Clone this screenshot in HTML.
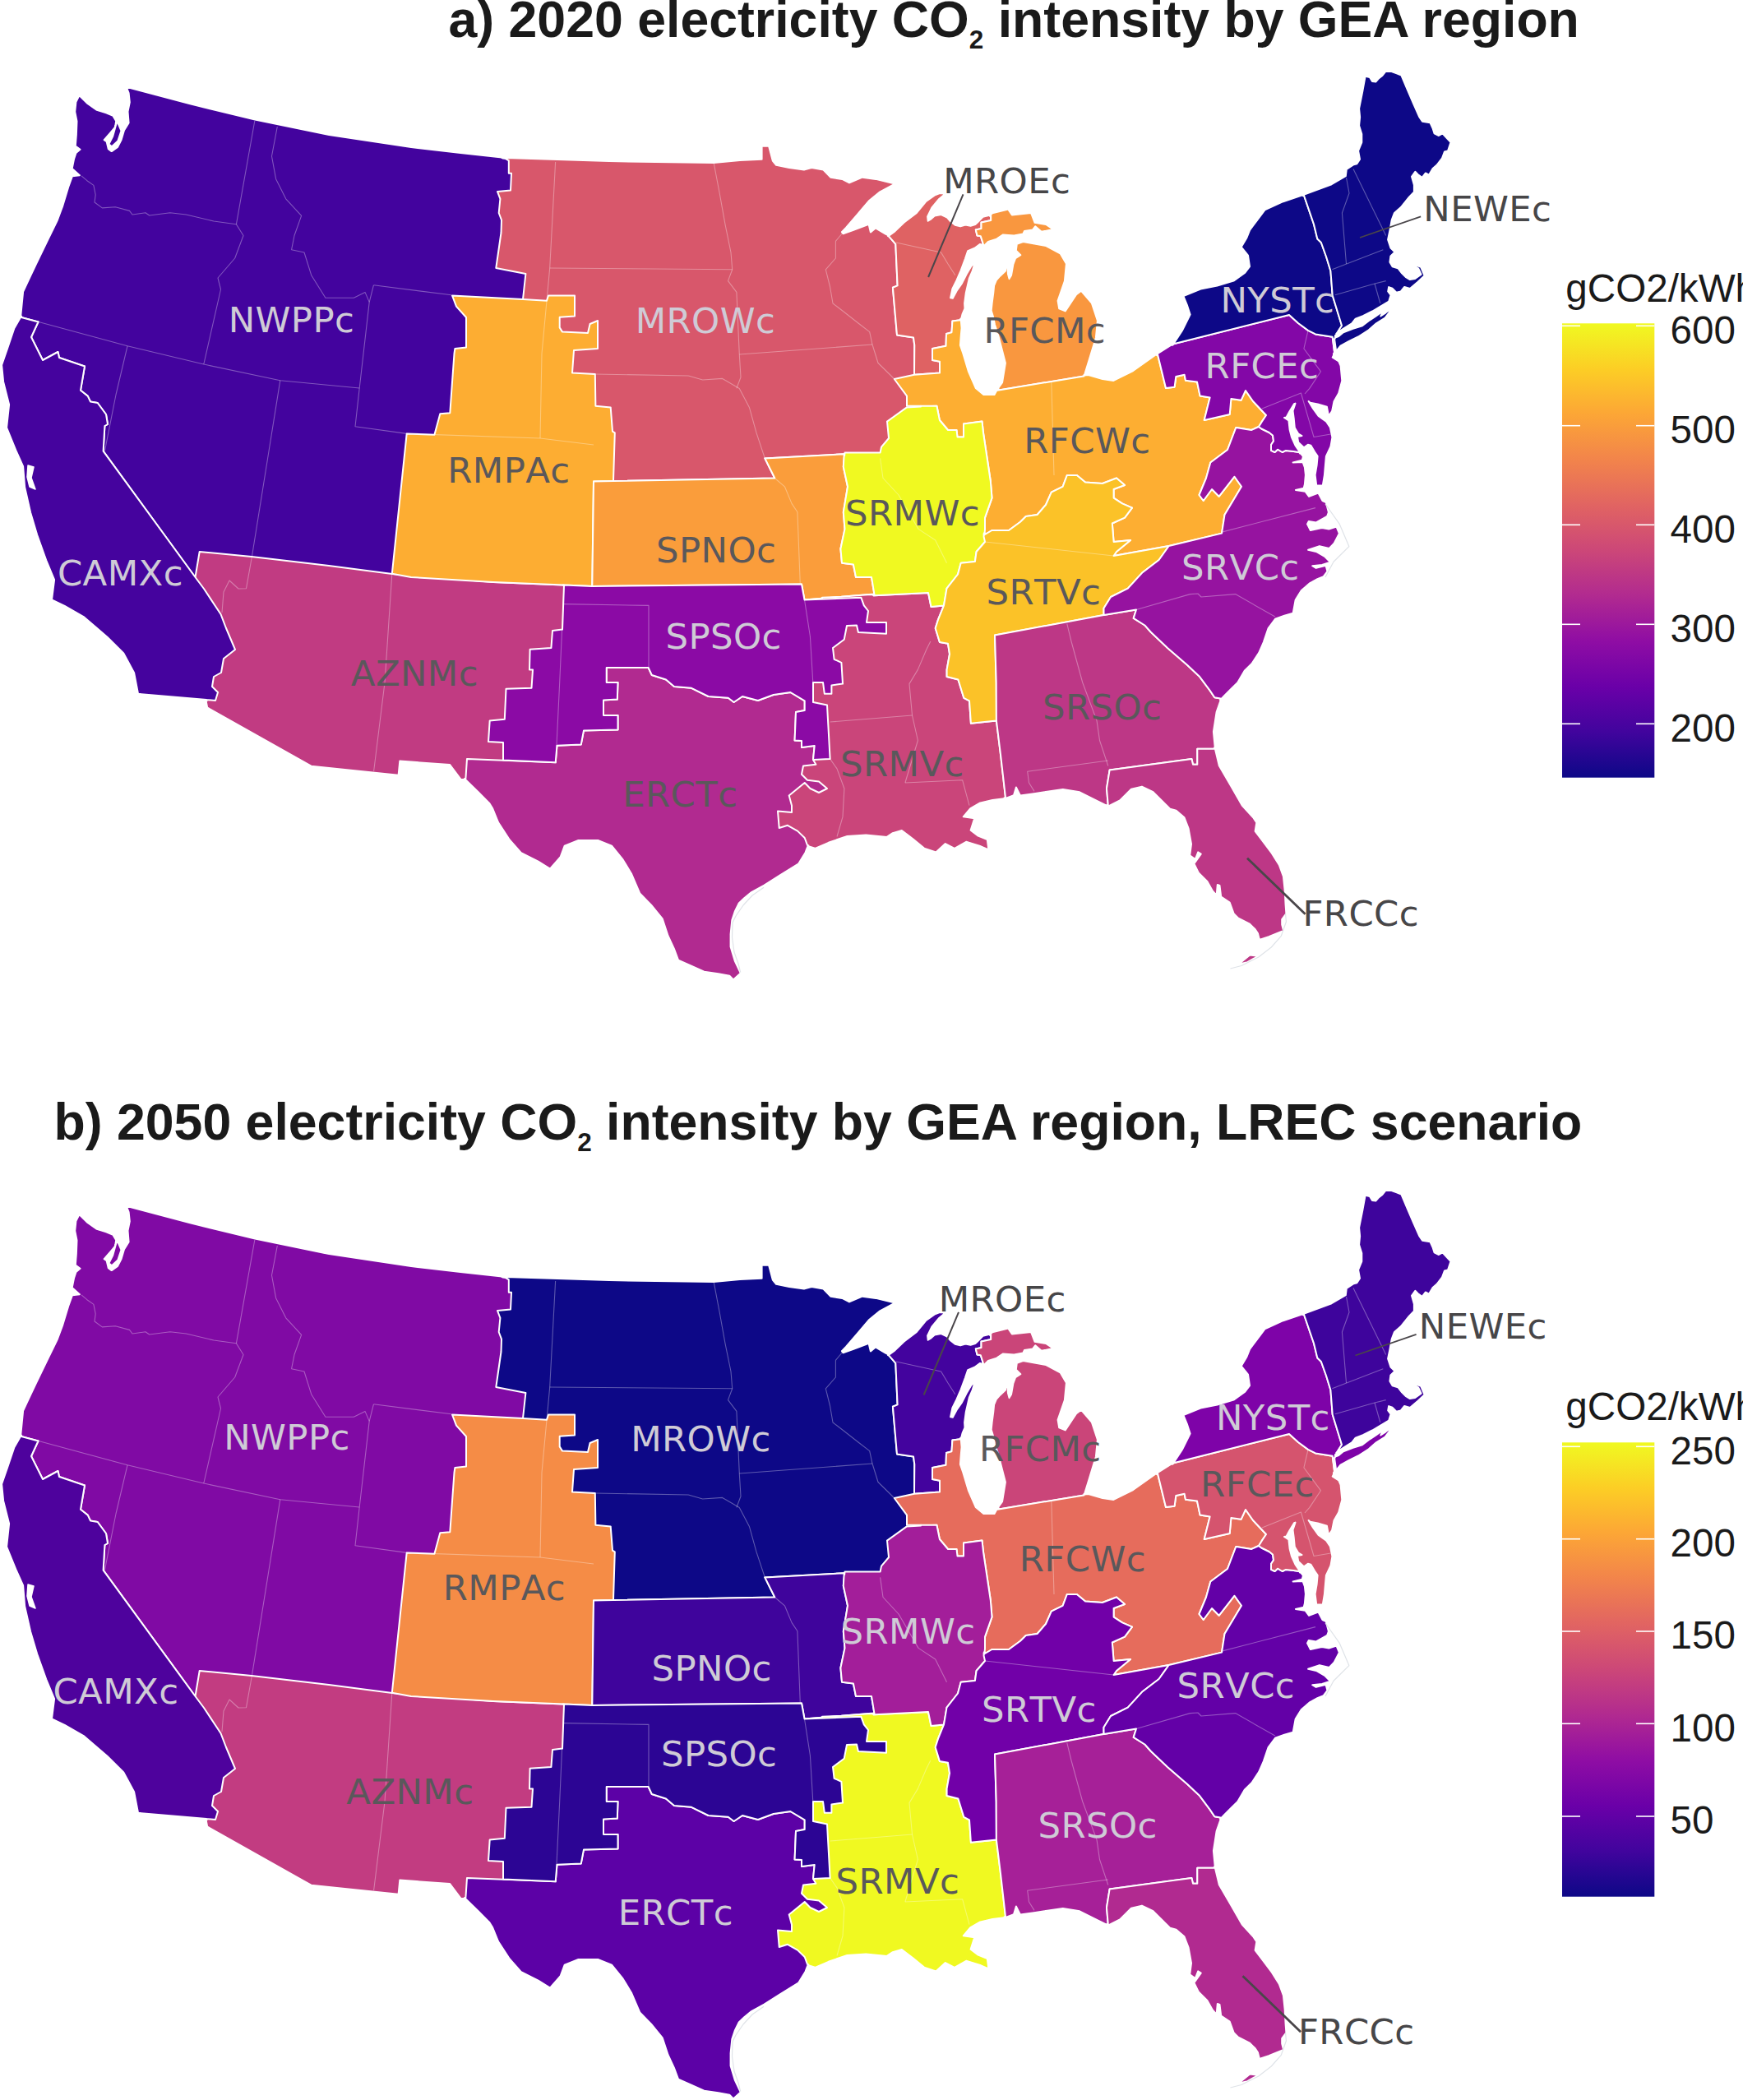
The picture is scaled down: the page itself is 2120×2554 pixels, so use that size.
<!DOCTYPE html>
<html><head><meta charset="utf-8"><title>Electricity CO2 intensity by GEA region</title>
<style>
html,body{margin:0;padding:0;background:#fff;}
body{width:2120px;height:2554px;overflow:hidden;position:relative;}
svg{position:absolute;left:0;top:0;display:block;}
.t{font-family:"Liberation Sans",Arial,sans-serif;font-weight:bold;font-size:62.6px;fill:#1a1a1a;}
.s{font-size:31.5px;}
</style></head><body>
<svg width="2120" height="2554" viewBox="0 0 2120 2554">
<defs><linearGradient id="plasma" x1="0" y1="1" x2="0" y2="0"><stop offset="0.0" stop-color="#0D0887"/><stop offset="0.1" stop-color="#41049D"/><stop offset="0.2" stop-color="#6A00A8"/><stop offset="0.3" stop-color="#8F0DA4"/><stop offset="0.4" stop-color="#B12A90"/><stop offset="0.5" stop-color="#CC4778"/><stop offset="0.6" stop-color="#E16462"/><stop offset="0.7" stop-color="#F2844B"/><stop offset="0.8" stop-color="#FCA636"/><stop offset="0.9" stop-color="#FCCE25"/><stop offset="1.0" stop-color="#F0F921"/></linearGradient></defs>
<rect width="2120" height="2554" fill="#fff"/>
<text class="t" x="545.5" y="45">a) 2020 electricity CO<tspan class="s" dy="14">2</tspan><tspan dy="-14"> intensity by GEA region</tspan></text>
<text class="t" x="65.5" y="1386">b) 2050 electricity CO<tspan class="s" dy="14">2</tspan><tspan dy="-14"> intensity by GEA region, LREC scenario</tspan></text>
<g stroke="#fff" stroke-width="2" stroke-linejoin="round">
<path fill="#43039E" fill-rule="evenodd" d="M600.0,400.0 650.0,400.0 640.0,200.0 615.0,193.0 620.9,193.2 617.2,192.2 615.1,192.1 560.1,186.1 500.1,179.1 400.2,164.1 310.2,145.6 230.2,126.1 153.7,105.9 156.6,113.2 157.8,124.4 155.5,135.8 156.6,149.5 151.0,158.4 147.6,170.0 143.1,178.9 135.7,184.1 131.8,181.3 129.6,172.1 126.7,170.1 134.1,161.6 140.0,154.7 141.2,147.2 137.5,140.9 129.1,137.4 117.8,133.9 106.5,126.0 96.4,116.0 92.4,124.1 91.2,135.9 93.5,147.5 92.9,163.3 91.8,177.6 97.5,181.8 92.5,185.9 90.1,193.1 87.7,205.0 96.9,213.2 88.0,214.2 83.2,227.4 76.3,250.3 69.5,268.6 59.2,289.6 44.2,320.6 35.2,339.6 28.1,354.8 25.1,385.7 24.5,386.8 24.5,387.0 25.3,387.3 26.0,386.0 46.5,391.5 38.0,410.0 52.0,438.0 70.5,428.0 72.0,435.0 103.0,445.5 98.0,474.7 106.7,481.6 110.0,488.5 118.7,490.0 129.0,504.0 131.0,516.0 127.4,518.0 125.6,548.7 237.5,702.0 250.0,720.0 600.0,760.0 600.0,708.0ZM140.5,154.9 140.9,152.8 140.1,155.4ZM601.4,708.1 601.4,708.1 600.0,708.0Z"/>
<path fill="#43039E" fill-rule="evenodd" d="M140.4,152.7 139.7,155.1 140.0,154.7ZM137.2,165.7 132.4,175.2 136.0,178.2 143.3,171.5 147.5,159.0 142.4,147.3Z"/>
<path fill="#C13B82" fill-rule="evenodd" d="M477.0,698.0 400.0,688.0 306.0,677.0 242.7,671.0 237.5,702.0 232.0,720.0 250.0,800.0 250.0,845.0 251.2,851.1 249.8,850.9 249.9,851.9 250.5,851.9 252.2,860.6 378.5,931.7 484.6,942.8 486.3,925.6 547.0,929.9 560.5,947.9 566.0,947.9 566.5,948.4 566.9,948.4 567.4,948.0 566.4,947.0 580.0,935.0 720.0,935.0 720.0,713.0 600.0,708.0ZM686.0,711.6 686.0,711.6 600.0,708.0Z"/>
<path fill="#45039E" fill-rule="evenodd" d="M265.0,842.0 258.0,835.0 260.0,823.0 269.0,818.0 272.0,801.0 286.0,790.0 275.0,764.0 268.5,747.0 248.0,716.0 237.5,702.0 125.6,548.7 127.4,518.0 131.0,516.0 129.0,504.0 118.7,490.0 110.0,488.5 106.7,481.6 98.0,474.7 103.0,445.5 72.0,435.0 70.5,428.0 52.0,438.0 38.0,410.0 46.5,391.5 26.0,386.0 26.1,384.6 25.3,384.4 25.2,384.5 25.1,385.7 17.2,399.6 9.1,423.7 2.1,443.9 4.1,464.2 11.1,492.1 8.1,520.1 19.2,547.4 28.1,567.2 30.1,592.1 37.1,623.2 45.1,650.3 56.2,681.3 66.1,705.1 63.0,729.5 78.6,736.8 102.5,750.7 130.4,774.7 150.3,794.5 163.1,818.3 168.2,844.8 250.5,851.9 250.6,852.4 251.5,852.5 251.2,851.1 169.0,844.0 262.0,852.0Z"/>
<path fill="#D8576B" fill-rule="evenodd" d="M618.8,195.3 618.8,210.8 622.0,210.8 621.0,231.5 605.0,233.0 608.4,241.8 606.7,259.0 610.0,267.6 609.5,283.0 603.3,326.0 639.4,333.0 636.0,364.0 640.0,500.0 700.0,500.0 700.0,580.0 746.0,585.0 735.5,585.3 736.1,585.3 942.3,581.5 930.3,557.4 1026.7,552.2 1026.4,556.5 1026.8,557.7 1027.2,553.9 1040.0,600.0 1120.0,600.0 1120.0,494.6 1121.4,494.5 1121.4,493.7 1120.0,493.7 1120.0,470.0 1112.0,455.8 1112.3,420.0 1111.0,410.5 1091.0,407.5 1085.9,349.7 1091.6,347.4 1089.3,296.9 1081.3,287.7 1082.5,286.9 1082.2,286.6 1081.7,286.3 1081.2,286.7 1077.1,284.6 1064.9,277.4 1058.9,282.4 1056.6,272.8 1037.4,280.0 1025.4,284.3 1023.9,282.1 1029.2,276.6 1043.0,260.6 1056.6,244.6 1070.3,233.3 1088.4,223.6 1065.2,217.9 1048.9,215.7 1033.0,222.4 1024.3,217.9 1010.4,215.8 1001.4,206.6 987.2,204.1 977.9,206.5 959.9,204.1 944.1,200.8 939.8,195.6 935.1,177.8 926.6,177.8 926.6,193.8 899.9,195.1 868.0,198.1 741.0,196.1 615.1,192.1 609.9,191.5 611.7,192.6 615.0,193.0Z"/>
<path fill="#FDAD32" fill-rule="evenodd" d="M747.8,526.4 745.0,524.7 742.7,495.4 724.4,493.7 723.8,455.0 696.0,453.5 698.0,426.0 727.0,424.0 727.0,390.0 717.6,394.0 715.0,405.0 684.0,403.6 680.7,398.4 680.7,385.7 699.0,384.6 699.0,359.5 667.0,359.5 665.0,365.7 636.0,364.0 550.0,359.5 555.0,372.6 567.0,386.0 567.0,422.5 553.4,424.0 552.5,430.0 547.3,502.3 535.3,503.3 528.4,528.8 494.7,527.4 476.8,697.8 500.0,702.0 600.0,708.0 686.0,711.6 686.0,711.6 720.3,713.0 722.0,585.6 747.4,585.1 747.4,585.0 746.0,585.0Z"/>
<path fill="#FA9D3B" fill-rule="evenodd" d="M930.3,557.4 942.3,581.5 746.0,585.0 722.0,585.6 720.3,713.0 975.0,710.5 978.5,729.5 1062.8,722.6 1023.5,725.8 1055.3,724.6 1062.0,724.1 1062.1,724.4 1063.7,724.3 1060.0,702.0 1041.0,702.0 1037.9,686.5 1024.0,684.7 1022.4,667.5 1027.5,643.4 1025.8,622.8 1031.0,591.8 1025.8,567.7 1027.2,553.9 1026.7,552.2ZM978.5,729.5 1000.0,728.6 1000.0,727.7Z"/>
<path fill="#CA457A" fill-rule="evenodd" d="M1000.0,727.7 998.6,727.9 998.6,728.7 1000.0,728.6 1000.0,760.0 960.0,800.0 940.0,960.0 940.0,1020.0 982.0,1027.9 981.5,1029.2 981.7,1029.3 982.4,1029.5 982.5,1029.0 991.3,1031.8 1007.7,1024.8 1030.5,1016.9 1053.3,1015.6 1078.7,1017.9 1085.8,1013.2 1096.8,1010.0 1110.0,1020.0 1124.0,1031.6 1138.4,1036.4 1149.8,1026.1 1161.0,1031.8 1175.1,1023.8 1193.0,1029.3 1202.4,1033.5 1200.8,1021.0 1189.1,1016.2 1180.6,1009.7 1185.2,995.3 1171.7,993.3 1180.1,983.3 1191.3,976.8 1207.2,972.9 1223.2,970.9 1224.5,970.4 1224.4,969.5 1223.0,970.0 1217.0,917.7 1211.9,876.4 1180.9,879.8 1179.0,852.3 1172.3,848.8 1165.4,826.5 1151.6,823.0 1151.6,814.4 1155.0,795.5 1153.0,782.8 1142.9,781.0 1137.7,764.0 1141.0,753.6 1148.0,736.4 1132.5,738.0 1129.0,720.9 1063.7,724.3 1063.0,722.9 1055.3,723.2 1023.5,725.8 1000.0,726.7Z"/>
<path fill="#B12A90" fill-rule="evenodd" d="M978.7,1019.0 970.0,1010.6 958.0,1003.8 947.7,1007.0 946.0,986.5 963.0,988.0 963.0,979.7 959.7,967.6 978.7,952.0 985.5,959.0 996.0,964.0 1006.0,959.0 996.0,950.4 982.0,948.7 975.0,941.8 977.0,931.5 992.4,929.7 989.0,924.0 990.7,907.0 975.0,909.0 975.0,901.0 966.6,900.5 968.0,866.0 978.7,864.0 978.7,852.3 961.4,842.0 940.8,845.0 921.9,852.0 903.0,847.0 892.6,854.0 885.7,848.8 861.6,847.0 841.0,836.8 820.0,835.0 810.0,826.5 792.8,821.0 788.6,812.0 737.7,812.0 737.7,830.0 751.5,830.0 750.8,850.6 734.0,851.6 734.0,870.0 751.5,870.0 751.5,887.4 710.0,888.4 706.7,905.6 677.5,906.7 675.7,927.3 568.0,922.9 566.4,947.0 565.0,947.0 565.0,947.5 565.3,947.9 566.0,947.9 581.4,963.0 595.0,976.6 599.2,983.4 606.1,1000.4 619.9,1021.5 633.8,1037.2 654.6,1047.6 669.0,1056.6 681.7,1042.1 686.7,1028.6 703.5,1021.9 727.2,1021.9 744.0,1028.6 757.6,1045.5 767.9,1062.4 778.2,1086.5 792.1,1100.6 805.7,1117.4 812.6,1138.3 819.8,1153.6 825.0,1167.7 839.1,1173.8 856.4,1181.7 873.7,1184.3 887.3,1186.8 892.0,1191.5 900.8,1183.6 893.7,1168.5 888.6,1151.4 888.6,1136.0 890.3,1119.0 893.7,1108.8 898.7,1098.5 905.5,1092.0 914.0,1085.1 929.5,1076.6 948.4,1064.6 971.0,1050.7 979.5,1036.9 982.5,1029.0 983.0,1029.2 983.3,1028.3 982.0,1027.9Z"/>
<path fill="#8B0AA5" fill-rule="evenodd" d="M686.0,711.6 684.6,711.5 684.6,711.5 686.0,711.6 684.0,765.6 672.0,767.0 670.4,788.0 644.6,789.7 644.0,814.4 648.0,814.4 646.5,836.8 615.5,837.8 613.8,874.7 595.7,876.4 594.0,902.0 612.0,903.0 612.0,924.6 675.7,927.3 677.5,906.7 706.7,905.6 710.0,888.4 751.5,887.4 751.5,870.0 734.0,870.0 734.0,851.6 750.8,850.6 751.5,830.0 737.7,830.0 737.7,812.0 788.6,812.0 792.8,821.0 810.0,826.5 820.0,835.0 841.0,836.8 861.6,847.0 885.7,848.8 892.6,854.0 903.0,847.0 921.9,852.0 940.8,845.0 961.4,842.0 978.7,852.3 978.7,864.0 968.0,866.0 966.6,900.5 975.0,901.0 975.0,909.0 990.7,907.0 989.0,924.0 1009.6,922.9 1006.0,857.5 989.0,854.0 989.0,830.0 1001.0,830.0 1002.8,843.7 1011.4,843.7 1011.4,833.4 1025.0,831.6 1023.4,805.8 1014.6,801.8 1013.0,788.0 1026.7,777.7 1030.0,761.0 1042.0,760.5 1043.9,769.0 1078.0,770.8 1078.0,757.0 1054.0,757.0 1056.0,743.0 1050.8,736.4 1047.3,726.7 978.5,729.5 975.0,710.5 720.3,713.0 686.0,711.5ZM978.5,729.5 1000.0,728.6 1000.0,727.7Z"/>
<path fill="#DF6263" fill-rule="evenodd" d="M1089.3,296.9 1091.6,347.4 1085.9,349.7 1091.0,407.5 1111.0,410.5 1112.3,420.0 1112.0,455.8 1143.0,453.4 1143.0,439.7 1134.0,438.0 1134.0,424.0 1150.5,420.8 1151.0,406.0 1157.5,404.3 1158.4,390.5 1167.9,389.2 1168.0,390.6 1168.9,390.5 1168.8,389.3 1170.5,382.2 1173.5,375.2 1173.1,369.0 1174.8,356.2 1178.9,338.3 1182.8,329.3 1186.1,318.0 1186.1,318.0 1180.9,324.5 1175.7,333.3 1169.6,345.2 1163.6,353.8 1158.8,362.8 1156.1,362.3 1158.4,351.2 1163.5,341.0 1168.7,328.8 1173.8,315.1 1177.2,305.1 1185.4,301.8 1192.1,296.9 1196.4,299.5 1197.7,298.2 1197.4,297.3 1196.3,298.4 1192.8,287.2 1188.5,286.4 1186.8,279.5 1193.5,278.0 1193.5,270.5 1205.2,268.0 1205.2,262.4 1206.6,260.9 1206.6,260.6 1205.4,260.9 1204.7,261.6 1195.5,263.8 1189.2,270.2 1186.2,273.1 1180.5,274.8 1174.3,273.6 1168.1,275.4 1161.7,273.7 1156.3,269.5 1152.0,264.5 1144.7,261.1 1136.8,262.5 1131.7,267.0 1128.7,268.7 1128.1,263.5 1133.3,252.7 1141.6,242.6 1149.7,235.8 1142.9,235.1 1136.6,237.7 1126.0,245.3 1114.9,258.9 1099.4,270.7 1087.4,282.3 1081.2,286.7 1080.7,286.4 1079.9,287.0 1081.3,287.7Z"/>
<path fill="#F9973F" fill-rule="evenodd" d="M1205.2,268.0 1193.5,270.5 1193.5,278.0 1186.8,279.5 1188.5,286.4 1192.8,287.2 1196.3,298.4 1194.5,297.3 1194.9,298.6 1196.4,299.5 1201.9,294.0 1212.2,290.6 1219.7,285.5 1233.3,286.4 1244.2,284.6 1245.9,281.1 1256.1,279.4 1259.2,275.3 1266.7,281.8 1281.0,279.0 1272.1,273.0 1258.6,270.8 1254.0,259.0 1230.9,261.4 1226.3,254.6 1207.0,259.2 1204.7,261.6 1203.8,261.8 1203.8,261.8 1203.8,262.7 1205.2,262.4Z"/>
<path fill="#F9973F" fill-rule="evenodd" d="M1318.4,457.5 1319.8,457.4 1319.8,456.5 1319.3,456.5 1319.3,455.1 1324.5,438.3 1332.9,410.7 1334.9,389.9 1327.8,368.5 1315.1,353.8 1309.1,358.2 1295.7,378.4 1288.2,375.4 1286.6,365.8 1294.9,341.8 1296.9,320.8 1289.6,308.3 1272.3,299.1 1244.4,294.1 1236.8,296.8 1235.8,304.7 1241.3,310.2 1235.1,314.2 1232.4,321.4 1230.1,334.7 1227.5,339.1 1225.9,332.9 1225.4,320.5 1224.6,320.5 1223.0,329.5 1216.4,335.7 1211.8,340.9 1209.1,347.3 1208.3,355.9 1206.6,368.9 1205.7,377.7 1208.3,386.4 1210.0,395.0 1214.1,407.3 1222.9,441.5 1219.1,465.1 1212.6,474.2 1211.4,476.4 1212.6,476.3 1213.4,474.7Z"/>
<path fill="#FDAE32" fill-rule="evenodd" d="M1158.4,390.5 1157.5,404.3 1151.0,406.0 1150.5,420.8 1134.0,424.0 1134.0,438.0 1143.0,439.7 1143.0,453.4 1112.0,455.8 1087.8,461.0 1103.0,481.6 1103.0,493.7 1120.0,493.7 1120.0,494.6 1139.4,493.7 1142.9,511.0 1153.0,523.0 1163.5,523.0 1164.5,531.5 1172.0,531.5 1172.0,515.4 1194.5,512.6 1196.0,526.4 1204.8,585.0 1206.5,605.6 1198.0,629.7 1196.6,643.9 1196.6,652.4 1198.0,651.6 1198.0,650.0 1206.5,645.0 1227.0,645.0 1241.0,634.8 1247.8,628.0 1261.6,626.0 1272.0,614.0 1278.8,598.7 1292.6,591.8 1297.8,578.0 1309.8,578.0 1320.0,586.6 1340.8,588.0 1358.0,581.5 1368.0,590.0 1354.6,595.0 1354.6,605.6 1365.0,612.4 1377.0,617.6 1368.0,629.7 1352.8,636.5 1354.6,659.0 1375.0,657.0 1358.0,671.0 1354.6,676.0 1421.7,664.0 1486.0,648.6 1489.5,626.0 1510.0,591.8 1501.5,579.7 1482.6,603.8 1474.0,595.0 1463.7,609.0 1458.5,602.0 1467.0,581.5 1472.3,562.5 1493.0,547.0 1503.3,520.0 1522.0,523.0 1531.0,519.0 1534.4,513.4 1540.0,505.0 1524.0,488.0 1515.0,475.0 1509.5,486.8 1497.4,485.0 1495.7,504.0 1464.7,511.0 1471.6,483.4 1459.6,481.6 1456.0,464.4 1442.0,462.7 1440.6,455.8 1430.3,458.0 1428.6,470.7 1418.0,472.0 1408.0,431.0 1409.2,430.2 1409.0,429.3 1407.5,430.3 1378.2,451.0 1354.4,462.9 1341.0,461.1 1323.7,456.1 1319.3,456.5 1319.3,456.0 1318.4,456.1 1318.4,457.5 1213.4,474.7 1214.6,473.1 1213.3,473.3 1212.6,474.2 1209.5,480.1 1196.3,480.1 1186.7,471.9 1177.8,451.5 1171.3,429.7 1167.9,419.9 1168.8,407.8 1169.6,399.0 1168.8,389.3 1169.2,387.7 1169.2,387.6 1168.2,387.7 1167.9,389.2ZM1196.9,649.9 1197.1,648.0 1197.1,650.8Z"/>
<path fill="#F0F921" fill-rule="evenodd" d="M1103.0,495.4 1079.0,512.6 1081.0,533.0 1072.0,543.6 1070.6,550.5 1027.5,550.5 1027.2,553.9 1026.7,552.2 1025.8,567.7 1031.0,591.8 1025.8,622.8 1027.5,643.4 1022.4,667.5 1024.0,684.7 1037.9,686.5 1041.0,702.0 1060.0,702.0 1063.7,724.3 1129.0,720.9 1132.5,738.0 1148.0,736.4 1151.5,715.7 1165.0,698.5 1168.7,684.7 1185.9,683.0 1187.6,671.0 1198.0,659.0 1198.0,652.5 1197.4,649.9 1198.0,644.0 1198.0,629.7 1206.5,605.6 1204.8,585.0 1196.0,526.4 1194.5,512.6 1172.0,515.4 1172.0,531.5 1164.5,531.5 1163.5,523.0 1153.0,523.0 1142.9,511.0 1139.4,493.7 1120.0,493.7 1120.0,494.6ZM1196.9,649.9 1197.1,648.0 1197.1,650.8ZM1062.3,724.4 1063.7,724.3 1062.8,722.6 1062.0,722.7Z"/>
<path fill="#FBC228" fill-rule="evenodd" d="M1187.6,671.0 1185.9,683.0 1168.7,684.7 1165.0,698.5 1151.5,715.7 1148.0,736.4 1141.0,753.6 1137.7,764.0 1142.9,781.0 1153.0,782.8 1155.0,795.5 1151.6,814.4 1151.6,823.0 1165.4,826.5 1172.3,848.8 1179.0,852.3 1180.9,879.8 1211.9,876.4 1211.7,830.0 1210.0,772.5 1342.5,748.0 1342.5,739.8 1351.0,726.0 1371.8,715.7 1389.0,696.8 1409.6,681.0 1421.7,664.0 1354.6,676.0 1358.0,671.0 1375.0,657.0 1354.6,659.0 1352.8,636.5 1368.0,629.7 1377.0,617.6 1365.0,612.4 1354.6,605.6 1354.6,595.0 1368.0,590.0 1358.0,581.5 1340.8,588.0 1320.0,586.6 1309.8,578.0 1297.8,578.0 1292.6,591.8 1278.8,598.7 1272.0,614.0 1261.6,626.0 1247.8,628.0 1241.0,634.8 1227.0,645.0 1206.5,645.0 1198.0,650.0 1198.0,648.4 1197.1,648.9 1197.1,650.8 1196.9,649.9 1197.0,649.0 1196.6,649.2 1196.6,652.7 1198.0,659.0Z"/>
<path fill="#BD3786" fill-rule="evenodd" d="M1477.3,848.2 1471.5,839.6 1458.6,822.4 1444.0,808.7 1420.0,788.0 1400.0,769.0 1392.4,760.5 1378.7,751.9 1382.0,741.5 1342.5,748.0 1210.0,772.5 1211.7,830.0 1211.9,876.4 1217.0,917.7 1223.0,970.0 1221.6,970.2 1221.7,971.1 1223.2,970.9 1233.0,967.3 1235.9,957.5 1241.0,967.6 1257.6,965.2 1292.8,959.9 1313.1,963.3 1333.6,973.6 1347.8,980.7 1349.2,980.0 1349.1,979.0 1347.8,979.7 1346.0,959.0 1349.6,936.6 1449.4,922.9 1451.0,929.7 1456.3,929.7 1456.3,910.8 1477.0,910.8 1477.3,912.2 1478.3,912.2 1477.9,910.7 1475.9,890.0 1479.6,866.2 1485.2,850.1 1486.0,849.3 1486.3,848.5 1485.6,848.4 1484.4,849.6Z"/>
<path fill="#BD3786" fill-rule="evenodd" d="M1456.3,910.8 1456.3,929.7 1451.0,929.7 1449.4,922.9 1349.6,936.6 1346.0,959.0 1347.8,979.7 1346.3,979.0 1346.4,980.0 1347.8,980.7 1362.1,973.5 1375.9,959.8 1388.9,956.6 1402.5,963.1 1423.1,983.8 1430.6,985.8 1440.5,994.3 1445.6,1007.7 1449.0,1026.5 1447.2,1040.4 1453.8,1045.1 1457.2,1036.4 1460.7,1038.7 1452.4,1050.5 1457.8,1061.4 1468.1,1071.6 1475.0,1083.8 1479.7,1088.7 1480.8,1076.0 1483.5,1077.0 1485.2,1090.5 1495.7,1097.6 1500.7,1111.3 1506.2,1116.7 1520.0,1123.6 1526.7,1130.3 1530.0,1135.4 1531.9,1143.0 1543.2,1139.1 1551.8,1135.8 1561.1,1132.0 1559.2,1124.5 1559.2,1118.0 1564.4,1111.1 1563.6,1100.4 1562.7,1083.2 1560.9,1065.8 1555.8,1051.9 1547.0,1038.0 1536.7,1024.2 1526.6,1010.8 1528.3,1000.5 1524.7,994.9 1510.7,979.5 1496.8,955.2 1482.8,931.2 1477.9,910.7 1477.8,909.4 1476.9,909.4 1477.0,910.8Z"/>
<path fill="#BD3786" fill-rule="evenodd" d="M1506.4,1172.8 1517.3,1170.1 1530.2,1162.8 1520.2,1161.5Z"/>
<path fill="#9613A0" fill-rule="evenodd" d="M1573.4,549.0 1564.0,547.9 1559.7,550.0 1554.0,546.7 1550.5,550.0 1546.0,547.9 1546.0,541.0 1549.0,536.4 1548.0,529.5 1543.6,526.0 1534.4,521.5 1531.0,519.0 1522.0,523.0 1503.3,520.0 1493.0,547.0 1472.3,562.5 1467.0,581.5 1458.5,602.0 1463.7,609.0 1474.0,595.0 1482.6,603.8 1501.5,579.7 1510.0,591.8 1489.5,626.0 1486.0,648.6 1421.7,664.0 1409.6,681.0 1389.0,696.8 1371.8,715.7 1351.0,726.0 1342.5,739.8 1342.5,748.0 1382.0,741.5 1378.7,751.9 1392.4,760.5 1400.0,769.0 1420.0,788.0 1444.0,808.7 1458.6,822.4 1471.5,839.6 1477.3,848.2 1484.4,849.6 1483.9,850.9 1484.8,851.1 1485.2,850.1 1489.3,845.9 1496.5,838.8 1505.2,830.2 1513.7,815.8 1522.4,807.2 1531.1,794.1 1536.8,781.1 1542.6,764.0 1551.0,752.8 1562.2,748.7 1572.7,745.6 1575.7,729.5 1582.7,718.3 1592.5,709.7 1602.4,704.2 1609.8,701.2 1614.5,694.9 1612.6,687.9 1600.7,690.9 1596.2,688.2 1608.0,686.9 1618.1,683.7 1611.2,676.8 1600.9,670.9 1591.1,668.8 1604.9,664.1 1616.7,667.0 1622.7,660.8 1628.9,648.8 1625.5,640.6 1616.3,643.6 1607.8,642.1 1593.9,645.0 1590.0,637.4 1591.8,634.0 1600.8,635.4 1614.2,627.9 1615.9,623.0 1612.8,611.0 1608.5,609.1 1603.4,599.5 1592.1,603.9 1587.5,597.7 1575.9,595.9 1585.7,593.8 1586.9,589.1 1587.9,577.7 1586.9,568.3 1584.6,562.1 1572.6,562.4 1583.7,559.8 1585.0,555.3 1580.7,549.5 1580.1,548.6 1578.9,548.4 1580.0,550.0Z"/>
<path fill="#8307A7" fill-rule="evenodd" d="M1418.0,472.0 1428.6,470.7 1430.3,458.0 1440.6,455.8 1442.0,462.7 1456.0,464.4 1459.6,481.6 1471.6,483.4 1464.7,511.0 1495.7,504.0 1497.4,485.0 1509.5,486.8 1515.0,475.0 1524.0,488.0 1540.0,505.0 1534.4,513.4 1531.0,519.0 1534.4,521.5 1543.6,526.0 1548.0,529.5 1549.0,536.4 1546.0,541.0 1546.0,547.9 1550.5,550.0 1554.0,546.7 1559.7,550.0 1564.0,547.9 1573.4,549.0 1580.0,550.0 1581.2,551.6 1582.4,551.8 1580.7,549.5 1575.4,541.6 1570.9,531.5 1568.6,522.4 1567.4,511.5 1562.0,508.0 1564.6,507.4 1568.5,500.2 1574.0,491.2 1575.5,490.6 1572.5,499.6 1573.7,508.9 1574.8,520.3 1579.3,527.7 1583.5,530.1 1578.0,531.1 1579.2,538.0 1585.9,544.2 1590.8,540.8 1594.4,541.8 1599.0,549.5 1602.6,554.9 1601.6,565.9 1599.6,577.7 1601.2,590.4 1608.8,590.4 1610.9,577.8 1611.9,566.1 1612.9,554.9 1618.4,543.3 1620.4,531.8 1617.8,519.6 1613.1,512.8 1603.6,506.0 1597.1,496.9 1591.6,488.0 1593.6,489.8 1602.8,491.4 1613.9,494.7 1616.0,506.0 1620.1,500.1 1622.5,488.3 1628.2,478.3 1632.3,463.1 1630.6,444.8 1628.2,439.4 1620.7,434.7 1623.9,428.4 1624.0,425.5 1624.3,427.6 1623.4,420.1 1623.0,428.2 1620.7,409.8 1600.0,406.4 1591.0,401.9 1579.0,393.0 1568.0,383.0 1428.6,418.0 1429.7,416.3 1428.4,416.6 1428.0,417.3 1407.5,430.3 1406.5,430.9 1406.8,431.9 1408.0,431.0Z"/>
<path fill="#0D0887" fill-rule="evenodd" d="M1632.0,396.0 1620.7,359.3 1618.4,329.5 1613.0,312.0 1606.9,295.0 1602.3,290.5 1598.0,272.8 1586.0,237.7 1587.3,237.2 1587.0,236.4 1585.7,236.9 1560.7,245.2 1538.4,255.3 1520.1,279.8 1516.1,289.8 1509.7,300.4 1518.0,310.7 1520.0,324.2 1514.3,331.7 1500.4,341.6 1480.5,347.6 1460.3,351.6 1439.4,360.0 1443.8,370.9 1447.6,382.5 1437.8,402.3 1428.0,417.3 1426.9,418.0 1425.8,419.8 1428.6,418.0 1568.0,383.0 1579.0,393.0 1591.0,401.9 1600.0,406.4 1620.7,409.8 1623.0,428.2 1621.9,430.4 1622.1,432.0 1623.9,428.4 1624.0,425.5 1624.4,428.1 1624.4,428.1 1624.6,423.4 1623.6,416.1 1624.0,408.0 1623.8,411.7 1625.2,411.1 1625.3,410.1 1624.8,410.3 1624.9,408.3 1628.1,403.7 1629.2,402.9 1630.5,401.0 1627.5,403.0Z"/>
<path fill="#0D0887" fill-rule="evenodd" d="M1623.0,412.0 1625.0,425.9 1623.6,416.1 1623.2,423.5 1623.9,428.1 1624.0,425.5 1624.4,428.1 1630.4,420.7 1640.4,415.2 1652.0,409.5 1664.8,401.3 1673.9,393.3 1684.6,386.7 1693.4,375.0 1693.0,374.6 1685.5,380.3 1679.3,384.4 1682.4,378.2 1672.9,385.0 1666.1,389.3 1657.0,396.2 1645.6,399.7 1633.9,404.2 1628.2,409.0 1624.8,410.3 1624.8,409.8 1623.9,410.2 1623.8,411.7Z"/>
<path fill="#0D0887" fill-rule="evenodd" d="M1598.0,272.8 1602.3,290.5 1606.9,295.0 1613.0,312.0 1618.4,329.5 1620.7,359.3 1632.0,396.0 1627.5,403.0 1625.2,406.2 1627.3,404.8 1628.1,403.7 1634.9,399.1 1644.2,393.3 1648.7,387.7 1657.8,384.2 1669.2,378.5 1680.8,371.6 1689.2,366.6 1691.6,358.8 1688.2,354.5 1689.1,349.1 1693.5,350.8 1698.4,355.7 1703.8,354.4 1708.2,348.9 1714.9,351.0 1724.6,342.7 1732.6,335.2 1728.2,324.8 1718.1,321.1 1717.8,321.9 1725.3,326.6 1728.6,333.7 1721.2,338.9 1714.9,340.1 1709.6,336.8 1705.1,332.4 1700.3,326.2 1693.6,324.2 1690.4,318.8 1691.4,311.4 1696.5,306.6 1691.4,301.5 1688.1,291.5 1690.4,280.2 1692.7,267.7 1696.0,258.9 1703.9,252.1 1713.7,240.0 1719.9,233.4 1719.9,224.9 1717.0,214.8 1721.3,208.8 1724.7,212.2 1729.7,215.8 1733.8,210.5 1738.0,212.7 1742.6,204.9 1747.7,200.6 1754.0,192.3 1757.0,184.4 1761.1,183.4 1764.5,173.1 1759.1,167.4 1754.5,162.4 1750.0,165.0 1744.6,162.4 1742.7,156.4 1739.4,149.2 1730.0,147.7 1726.1,141.9 1718.8,125.4 1711.7,108.8 1704.4,91.5 1698.8,89.2 1692.5,87.1 1685.6,86.7 1681.4,92.0 1677.2,95.1 1673.3,99.6 1669.0,99.1 1666.0,94.0 1660.6,92.7 1657.3,111.1 1653.1,132.0 1654.1,142.3 1653.1,152.7 1656.3,163.1 1656.3,173.1 1652.1,183.5 1654.0,193.8 1650.4,199.2 1646.5,200.2 1637.8,205.8 1636.8,214.1 1619.6,224.2 1585.7,236.9 1584.4,237.3 1584.7,238.1 1586.0,237.7Z"/>
</g>
<g fill="none" stroke="#fff" stroke-opacity="0.33" stroke-width="1.1" stroke-linejoin="round">
<polyline points="99.0,213.9 105.9,219.7 113.9,225.4 116.2,236.9 115.0,246.0 124.3,252.9 140.3,251.8 157.5,256.4 161.0,261.0 177.0,258.7 181.6,262.0 206.9,258.7 226.4,261.0 260.0,269.0 287.4,272.8"/>
<polyline points="309.8,147.0 287.4,272.8 296.0,286.5 285.7,314.0 265.0,338.0 268.5,352.0 247.8,443.0"/>
<polyline points="337.3,154.0 330.5,190.0 335.6,217.7 347.7,241.8 366.6,262.4 358.0,286.5 354.6,303.7 370.0,307.0 378.7,334.7 395.9,362.3 430.3,362.3 444.0,355.4 449.2,367.4"/>
<polyline points="454.4,346.8 449.2,367.4 437.2,472.0 432.0,518.8 494.7,527.4"/>
<polyline points="454.4,346.8 549.0,358.8"/>
<polyline points="25.8,385.7 155.0,420.8 247.8,443.0 340.8,462.7 437.2,472.0"/>
<polyline points="155.0,420.8 141.0,480.0 127.4,548.7"/>
<polyline points="340.8,462.7 306.4,677.0"/>
<polyline points="306.4,677.0 299.5,715.7 290.0,716.0 279.0,706.0 272.0,720.0 270.0,745.0"/>
<polyline points="476.8,697.8 468.0,830.0 454.6,938.0"/>
<polyline points="675.6,197.0 668.7,326.0 665.0,365.7 659.0,430.0 657.0,533.0"/>
<polyline points="668.7,326.0 890.7,327.8"/>
<polyline points="868.3,198.8 875.2,235.0 882.0,272.8 889.0,307.0 890.7,327.8 885.5,341.6 895.9,355.4 899.3,431.0 901.0,458.7 895.9,472.4"/>
<polyline points="899.3,431.0 1061.0,419.0"/>
<polyline points="723.8,455.0 837.3,457.0 854.6,462.0 878.7,460.4 899.3,472.4 911.4,495.4 920.0,526.4 930.3,557.4"/>
<polyline points="1025.0,283.0 1016.4,293.4 1016.4,314.0 1004.3,327.8 1009.5,348.5 1013.0,369.0 1026.7,379.5 1043.9,393.0 1057.7,403.6 1061.0,419.0 1068.0,441.5 1081.8,455.0 1087.8,461.0"/>
<polyline points="494.7,527.4 657.0,533.0 722.0,541.0"/>
<polyline points="942.3,581.5 954.4,591.8 963.0,612.4 969.9,622.8 973.3,710.5"/>
<polyline points="685.9,734.6 789.0,736.4 789.0,812.0"/>
<polyline points="686.0,711.5 680.7,830.0 676.0,927.0"/>
<polyline points="978.5,729.5 985.4,774.0 988.8,830.0"/>
<polyline points="1070.6,557.4 1074.0,581.5 1093.0,602.0 1117.0,643.4 1137.7,657.0 1151.5,684.7"/>
<polyline points="1278.8,464.4 1282.0,578.0"/>
<polyline points="1198.0,659.0 1354.6,676.0"/>
<polyline points="1487.0,646.9 1600.0,617.6"/>
<polyline points="1382.0,741.5 1447.5,722.6 1457.0,722.0 1461.0,726.0 1502.6,722.6 1550.8,750.0"/>
<polyline points="1297.8,758.7 1303.0,780.0 1316.7,830.0 1334.0,876.4 1337.5,900.5 1347.8,931.5"/>
<polyline points="1347.8,925.0 1249.7,938.3 1251.5,952.0 1258.0,962.4"/>
<polyline points="1100.9,952.0 1170.6,948.7 1179.0,979.7"/>
<polyline points="1009.6,878.0 1109.5,870.0"/>
<polyline points="1131.8,780.0 1126.7,790.3 1116.4,814.4 1106.0,831.6 1109.5,870.0 1116.4,900.5 1100.9,952.0"/>
<polyline points="1009.6,922.9 1018.0,934.9 1026.9,959.0 1025.0,993.4 1018.0,1017.5"/>
<polyline points="1646.0,205.6 1685.7,286.5"/>
<polyline points="1637.5,216.0 1641.0,235.0 1632.4,259.0 1637.5,321.0"/>
<polyline points="1620.3,327.8 1682.3,303.7"/>
<polyline points="1623.8,358.8 1672.0,345.0 1685.7,341.6"/>
<polyline points="1672.0,345.0 1678.8,369.0"/>
<polyline points="1591.0,401.9 1585.9,424.0 1606.5,451.8 1592.8,472.4 1587.0,479.0"/>
<polyline points="1535.0,497.0 1582.4,478.0 1598.0,531.5 1618.6,528.0"/>
<polyline points="1090.0,295.0 1144.6,307.0 1153.0,321.0 1161.8,334.7"/>
</g>
<g fill="#fff" stroke="#fff" stroke-width="1.5" stroke-linejoin="round">
<polygon points="34.0,566.0 41.0,568.0 38.0,581.0 43.0,595.0 36.0,592.0 33.0,580.0"/>
</g>
<g fill="none" stroke="#dfe3e8" stroke-width="1.2" stroke-linejoin="round">
<polyline points="929.0,1079.3 915.0,1089.0 904.0,1101.0 895.0,1114.0 891.0,1122.0 890.5,1140.0 893.0,1158.0 898.0,1172.0 900.6,1182.5"/>
<polyline points="1612.0,613.0 1629.3,637.4 1640.8,664.6 1622.0,683.3 1612.0,702.0"/>
<polyline points="1563.5,1110.8 1564.4,1121.0 1558.3,1138.3 1546.3,1152.0 1530.8,1164.0 1510.0,1174.5 1496.4,1178.0"/>
</g>
<g stroke="#4a464a" stroke-width="2.1" stroke-linecap="butt">
<line x1="1171.5" y1="236.4" x2="1129.1" y2="337.0" stroke-width="2.0"/>
<line x1="1728.1" y1="263.4" x2="1654.0" y2="289.0" stroke-width="1.8"/>
<line x1="1517.0" y1="1043.7" x2="1587.6" y2="1111.7" stroke-width="2.8"/>
</g>
<g font-family="'DejaVu Sans', sans-serif" font-size="43.4" style="font-kerning:none;letter-spacing:0.4px">
<text x="277.7" y="403.6" fill="#CFCBD6">NWPPc</text>
<text x="772.7" y="405.3" fill="#CFCBD6">MROWc</text>
<text x="1147.2" y="235.0" fill="#474648">MROEc</text>
<text x="1196.4" y="417.4" fill="#5A585B">RFCMc</text>
<text x="1484.5" y="379.5" fill="#CFCBD6">NYSTc</text>
<text x="1731.3" y="268.6" fill="#474648">NEWEc</text>
<text x="1465.6" y="460.4" fill="#CFCBD6">RFCEc</text>
<text x="544.3" y="586.6" fill="#5A585B">RMPAc</text>
<text x="798.1" y="684.0" fill="#5A585B">SPNOc</text>
<text x="809.6" y="788.5" fill="#CFCBD6">SPSOc</text>
<text x="1028.1" y="639.3" fill="#5A585B">SRMWc</text>
<text x="1245.3" y="551.0" fill="#5A585B">RFCWc</text>
<text x="1199.5" y="734.6" fill="#5A585B">SRTVc</text>
<text x="1437.1" y="705.4" fill="#CFCBD6">SRVCc</text>
<text x="69.9" y="712.3" fill="#CFCBD6">CAMXc</text>
<text x="426.8" y="834.4" fill="#5A585B">AZNMc</text>
<text x="757.2" y="981.4" fill="#5A585B">ERCTc</text>
<text x="1022.1" y="943.5" fill="#5A585B">SRMVc</text>
<text x="1268.1" y="875.4" fill="#5A585B">SRSOc</text>
<text x="1584.5" y="1126.0" fill="#474648">FRCCc</text>
</g>
<g stroke="#fff" stroke-width="2" stroke-linejoin="round">
<path fill="#800AA4" fill-rule="evenodd" d="M600.0,1761.0 650.0,1761.0 640.0,1561.0 615.0,1554.0 620.9,1554.2 617.2,1553.2 615.1,1553.1 560.1,1547.1 500.1,1540.1 400.2,1525.1 310.2,1506.6 230.2,1487.1 153.7,1466.9 156.6,1474.2 157.8,1485.4 155.5,1496.8 156.6,1510.5 151.0,1519.4 147.6,1531.0 143.1,1539.9 135.7,1545.1 131.8,1542.3 129.6,1533.1 126.7,1531.1 134.1,1522.6 140.0,1515.7 141.2,1508.2 137.5,1501.9 129.1,1498.4 117.8,1494.9 106.5,1487.0 96.4,1477.0 92.4,1485.1 91.2,1496.9 93.5,1508.5 92.9,1524.3 91.8,1538.6 97.5,1542.8 92.5,1546.9 90.1,1554.1 87.7,1566.0 96.9,1574.2 88.0,1575.2 83.2,1588.4 76.3,1611.3 69.5,1629.6 59.2,1650.6 44.2,1681.6 35.2,1700.6 28.1,1715.8 25.1,1746.7 24.5,1747.8 24.5,1748.0 25.3,1748.3 26.0,1747.0 46.5,1752.5 38.0,1771.0 52.0,1799.0 70.5,1789.0 72.0,1796.0 103.0,1806.5 98.0,1835.7 106.7,1842.6 110.0,1849.5 118.7,1851.0 129.0,1865.0 131.0,1877.0 127.4,1879.0 125.6,1909.7 237.5,2063.0 250.0,2081.0 600.0,2121.0 600.0,2069.0ZM140.5,1515.9 140.9,1513.8 140.1,1516.4ZM601.4,2069.1 601.4,2069.1 600.0,2069.0Z"/>
<path fill="#800AA4" fill-rule="evenodd" d="M140.4,1513.7 139.7,1516.1 140.0,1515.7ZM137.2,1526.7 132.4,1536.2 136.0,1539.2 143.3,1532.5 147.5,1520.0 142.4,1508.3Z"/>
<path fill="#C23C81" fill-rule="evenodd" d="M477.0,2059.0 400.0,2049.0 306.0,2038.0 242.7,2032.0 237.5,2063.0 232.0,2081.0 250.0,2161.0 250.0,2206.0 251.2,2212.1 249.8,2211.9 249.9,2212.9 250.5,2212.9 252.2,2221.6 378.5,2292.7 484.6,2303.8 486.3,2286.6 547.0,2290.9 560.5,2308.9 566.0,2308.9 566.5,2309.4 566.9,2309.4 567.4,2309.0 566.4,2308.0 580.0,2296.0 720.0,2296.0 720.0,2074.0 600.0,2069.0ZM686.0,2072.6 686.0,2072.6 600.0,2069.0Z"/>
<path fill="#4E029D" fill-rule="evenodd" d="M265.0,2203.0 258.0,2196.0 260.0,2184.0 269.0,2179.0 272.0,2162.0 286.0,2151.0 275.0,2125.0 268.5,2108.0 248.0,2077.0 237.5,2063.0 125.6,1909.7 127.4,1879.0 131.0,1877.0 129.0,1865.0 118.7,1851.0 110.0,1849.5 106.7,1842.6 98.0,1835.7 103.0,1806.5 72.0,1796.0 70.5,1789.0 52.0,1799.0 38.0,1771.0 46.5,1752.5 26.0,1747.0 26.1,1745.6 25.3,1745.4 25.2,1745.5 25.1,1746.7 17.2,1760.6 9.1,1784.7 2.1,1804.9 4.1,1825.2 11.1,1853.1 8.1,1881.1 19.2,1908.4 28.1,1928.2 30.1,1953.1 37.1,1984.2 45.1,2011.3 56.2,2042.3 66.1,2066.1 63.0,2090.5 78.6,2097.8 102.5,2111.7 130.4,2135.7 150.3,2155.5 163.1,2179.3 168.2,2205.8 250.5,2212.9 250.6,2213.4 251.5,2213.5 251.2,2212.1 169.0,2205.0 262.0,2213.0Z"/>
<path fill="#0D0887" fill-rule="evenodd" d="M618.8,1556.3 618.8,1571.8 622.0,1571.8 621.0,1592.5 605.0,1594.0 608.4,1602.8 606.7,1620.0 610.0,1628.6 609.5,1644.0 603.3,1687.0 639.4,1694.0 636.0,1725.0 640.0,1861.0 700.0,1861.0 700.0,1941.0 746.0,1946.0 735.5,1946.3 736.1,1946.3 942.3,1942.5 930.3,1918.4 1026.7,1913.2 1026.4,1917.5 1026.8,1918.7 1027.2,1914.9 1040.0,1961.0 1120.0,1961.0 1120.0,1855.6 1121.4,1855.5 1121.4,1854.7 1120.0,1854.7 1120.0,1831.0 1112.0,1816.8 1112.3,1781.0 1111.0,1771.5 1091.0,1768.5 1085.9,1710.7 1091.6,1708.4 1089.3,1657.9 1081.3,1648.7 1082.5,1647.9 1082.2,1647.6 1081.7,1647.3 1081.2,1647.7 1077.1,1645.6 1064.9,1638.4 1058.9,1643.4 1056.6,1633.8 1037.4,1641.0 1025.4,1645.3 1023.9,1643.1 1029.2,1637.6 1043.0,1621.6 1056.6,1605.6 1070.3,1594.3 1088.4,1584.6 1065.2,1578.9 1048.9,1576.7 1033.0,1583.4 1024.3,1578.9 1010.4,1576.8 1001.4,1567.6 987.2,1565.1 977.9,1567.5 959.9,1565.1 944.1,1561.8 939.8,1556.6 935.1,1538.8 926.6,1538.8 926.6,1554.8 899.9,1556.1 868.0,1559.1 741.0,1557.1 615.1,1553.1 609.9,1552.5 611.7,1553.6 615.0,1554.0Z"/>
<path fill="#F58C46" fill-rule="evenodd" d="M747.8,1887.4 745.0,1885.7 742.7,1856.4 724.4,1854.7 723.8,1816.0 696.0,1814.5 698.0,1787.0 727.0,1785.0 727.0,1751.0 717.6,1755.0 715.0,1766.0 684.0,1764.6 680.7,1759.4 680.7,1746.7 699.0,1745.6 699.0,1720.5 667.0,1720.5 665.0,1726.7 636.0,1725.0 550.0,1720.5 555.0,1733.6 567.0,1747.0 567.0,1783.5 553.4,1785.0 552.5,1791.0 547.3,1863.3 535.3,1864.3 528.4,1889.8 494.7,1888.4 476.8,2058.8 500.0,2063.0 600.0,2069.0 686.0,2072.6 686.0,2072.6 720.3,2074.0 722.0,1946.6 747.4,1946.1 747.4,1946.0 746.0,1946.0Z"/>
<path fill="#3F049C" fill-rule="evenodd" d="M930.3,1918.4 942.3,1942.5 746.0,1946.0 722.0,1946.6 720.3,2074.0 975.0,2071.5 978.5,2090.5 1062.8,2083.6 1023.5,2086.8 1055.3,2085.6 1062.0,2085.1 1062.1,2085.4 1063.7,2085.3 1060.0,2063.0 1041.0,2063.0 1037.9,2047.5 1024.0,2045.7 1022.4,2028.5 1027.5,2004.4 1025.8,1983.8 1031.0,1952.8 1025.8,1928.7 1027.2,1914.9 1026.7,1913.2ZM978.5,2090.5 1000.0,2089.6 1000.0,2088.7Z"/>
<path fill="#F0F921" fill-rule="evenodd" d="M1000.0,2088.7 998.6,2088.9 998.6,2089.7 1000.0,2089.6 1000.0,2121.0 960.0,2161.0 940.0,2321.0 940.0,2381.0 982.0,2388.9 981.5,2390.2 981.7,2390.3 982.4,2390.5 982.5,2390.0 991.3,2392.8 1007.7,2385.8 1030.5,2377.9 1053.3,2376.6 1078.7,2378.9 1085.8,2374.2 1096.8,2371.0 1110.0,2381.0 1124.0,2392.6 1138.4,2397.4 1149.8,2387.1 1161.0,2392.8 1175.1,2384.8 1193.0,2390.3 1202.4,2394.5 1200.8,2382.0 1189.1,2377.2 1180.6,2370.7 1185.2,2356.3 1171.7,2354.3 1180.1,2344.3 1191.3,2337.8 1207.2,2333.9 1223.2,2331.9 1224.5,2331.4 1224.4,2330.5 1223.0,2331.0 1217.0,2278.7 1211.9,2237.4 1180.9,2240.8 1179.0,2213.3 1172.3,2209.8 1165.4,2187.5 1151.6,2184.0 1151.6,2175.4 1155.0,2156.5 1153.0,2143.8 1142.9,2142.0 1137.7,2125.0 1141.0,2114.6 1148.0,2097.4 1132.5,2099.0 1129.0,2081.9 1063.7,2085.3 1063.0,2083.9 1055.3,2084.2 1023.5,2086.8 1000.0,2087.7Z"/>
<path fill="#5C01A6" fill-rule="evenodd" d="M978.7,2380.0 970.0,2371.6 958.0,2364.8 947.7,2368.0 946.0,2347.5 963.0,2349.0 963.0,2340.7 959.7,2328.6 978.7,2313.0 985.5,2320.0 996.0,2325.0 1006.0,2320.0 996.0,2311.4 982.0,2309.7 975.0,2302.8 977.0,2292.5 992.4,2290.7 989.0,2285.0 990.7,2268.0 975.0,2270.0 975.0,2262.0 966.6,2261.5 968.0,2227.0 978.7,2225.0 978.7,2213.3 961.4,2203.0 940.8,2206.0 921.9,2213.0 903.0,2208.0 892.6,2215.0 885.7,2209.8 861.6,2208.0 841.0,2197.8 820.0,2196.0 810.0,2187.5 792.8,2182.0 788.6,2173.0 737.7,2173.0 737.7,2191.0 751.5,2191.0 750.8,2211.6 734.0,2212.6 734.0,2231.0 751.5,2231.0 751.5,2248.4 710.0,2249.4 706.7,2266.6 677.5,2267.7 675.7,2288.3 568.0,2283.9 566.4,2308.0 565.0,2308.0 565.0,2308.5 565.3,2308.9 566.0,2308.9 581.4,2324.0 595.0,2337.6 599.2,2344.4 606.1,2361.4 619.9,2382.5 633.8,2398.2 654.6,2408.6 669.0,2417.6 681.7,2403.1 686.7,2389.6 703.5,2382.9 727.2,2382.9 744.0,2389.6 757.6,2406.5 767.9,2423.4 778.2,2447.5 792.1,2461.6 805.7,2478.4 812.6,2499.3 819.8,2514.6 825.0,2528.7 839.1,2534.8 856.4,2542.7 873.7,2545.3 887.3,2547.8 892.0,2552.5 900.8,2544.6 893.7,2529.5 888.6,2512.4 888.6,2497.0 890.3,2480.0 893.7,2469.8 898.7,2459.5 905.5,2453.0 914.0,2446.1 929.5,2437.6 948.4,2425.6 971.0,2411.7 979.5,2397.9 982.5,2390.0 983.0,2390.2 983.3,2389.3 982.0,2388.9Z"/>
<path fill="#2C0594" fill-rule="evenodd" d="M686.0,2072.6 684.6,2072.5 684.6,2072.5 686.0,2072.6 684.0,2126.6 672.0,2128.0 670.4,2149.0 644.6,2150.7 644.0,2175.4 648.0,2175.4 646.5,2197.8 615.5,2198.8 613.8,2235.7 595.7,2237.4 594.0,2263.0 612.0,2264.0 612.0,2285.6 675.7,2288.3 677.5,2267.7 706.7,2266.6 710.0,2249.4 751.5,2248.4 751.5,2231.0 734.0,2231.0 734.0,2212.6 750.8,2211.6 751.5,2191.0 737.7,2191.0 737.7,2173.0 788.6,2173.0 792.8,2182.0 810.0,2187.5 820.0,2196.0 841.0,2197.8 861.6,2208.0 885.7,2209.8 892.6,2215.0 903.0,2208.0 921.9,2213.0 940.8,2206.0 961.4,2203.0 978.7,2213.3 978.7,2225.0 968.0,2227.0 966.6,2261.5 975.0,2262.0 975.0,2270.0 990.7,2268.0 989.0,2285.0 1009.6,2283.9 1006.0,2218.5 989.0,2215.0 989.0,2191.0 1001.0,2191.0 1002.8,2204.7 1011.4,2204.7 1011.4,2194.4 1025.0,2192.6 1023.4,2166.8 1014.6,2162.8 1013.0,2149.0 1026.7,2138.7 1030.0,2122.0 1042.0,2121.5 1043.9,2130.0 1078.0,2131.8 1078.0,2118.0 1054.0,2118.0 1056.0,2104.0 1050.8,2097.4 1047.3,2087.7 978.5,2090.5 975.0,2071.5 720.3,2074.0 686.0,2072.5ZM978.5,2090.5 1000.0,2089.6 1000.0,2088.7Z"/>
<path fill="#43039E" fill-rule="evenodd" d="M1089.3,1657.9 1091.6,1708.4 1085.9,1710.7 1091.0,1768.5 1111.0,1771.5 1112.3,1781.0 1112.0,1816.8 1143.0,1814.4 1143.0,1800.7 1134.0,1799.0 1134.0,1785.0 1150.5,1781.8 1151.0,1767.0 1157.5,1765.3 1158.4,1751.5 1167.9,1750.2 1168.0,1751.6 1168.9,1751.5 1168.8,1750.3 1170.5,1743.2 1173.5,1736.2 1173.1,1730.0 1174.8,1717.2 1178.9,1699.3 1182.8,1690.3 1186.1,1679.0 1186.1,1679.0 1180.9,1685.5 1175.7,1694.3 1169.6,1706.2 1163.6,1714.8 1158.8,1723.8 1156.1,1723.3 1158.4,1712.2 1163.5,1702.0 1168.7,1689.8 1173.8,1676.1 1177.2,1666.1 1185.4,1662.8 1192.1,1657.9 1196.4,1660.5 1197.7,1659.2 1197.4,1658.3 1196.3,1659.4 1192.8,1648.2 1188.5,1647.4 1186.8,1640.5 1193.5,1639.0 1193.5,1631.5 1205.2,1629.0 1205.2,1623.4 1206.6,1621.9 1206.6,1621.6 1205.4,1621.9 1204.7,1622.6 1195.5,1624.8 1189.2,1631.2 1186.2,1634.1 1180.5,1635.8 1174.3,1634.6 1168.1,1636.4 1161.7,1634.7 1156.3,1630.5 1152.0,1625.5 1144.7,1622.1 1136.8,1623.5 1131.7,1628.0 1128.7,1629.7 1128.1,1624.5 1133.3,1613.7 1141.6,1603.6 1149.7,1596.8 1142.9,1596.1 1136.6,1598.7 1126.0,1606.3 1114.9,1619.9 1099.4,1631.7 1087.4,1643.3 1081.2,1647.7 1080.7,1647.4 1079.9,1648.0 1081.3,1648.7Z"/>
<path fill="#CA4579" fill-rule="evenodd" d="M1205.2,1629.0 1193.5,1631.5 1193.5,1639.0 1186.8,1640.5 1188.5,1647.4 1192.8,1648.2 1196.3,1659.4 1194.5,1658.3 1194.9,1659.6 1196.4,1660.5 1201.9,1655.0 1212.2,1651.6 1219.7,1646.5 1233.3,1647.4 1244.2,1645.6 1245.9,1642.1 1256.1,1640.4 1259.2,1636.3 1266.7,1642.8 1281.0,1640.0 1272.1,1634.0 1258.6,1631.8 1254.0,1620.0 1230.9,1622.4 1226.3,1615.6 1207.0,1620.2 1204.7,1622.6 1203.8,1622.8 1203.8,1622.8 1203.8,1623.7 1205.2,1623.4Z"/>
<path fill="#CA4579" fill-rule="evenodd" d="M1318.4,1818.5 1319.8,1818.4 1319.8,1817.5 1319.3,1817.5 1319.3,1816.1 1324.5,1799.3 1332.9,1771.7 1334.9,1750.9 1327.8,1729.5 1315.1,1714.8 1309.1,1719.2 1295.7,1739.4 1288.2,1736.4 1286.6,1726.8 1294.9,1702.8 1296.9,1681.8 1289.6,1669.3 1272.3,1660.1 1244.4,1655.1 1236.8,1657.8 1235.8,1665.7 1241.3,1671.2 1235.1,1675.2 1232.4,1682.4 1230.1,1695.7 1227.5,1700.1 1225.9,1693.9 1225.4,1681.5 1224.6,1681.5 1223.0,1690.5 1216.4,1696.7 1211.8,1701.9 1209.1,1708.3 1208.3,1716.9 1206.6,1729.9 1205.7,1738.7 1208.3,1747.4 1210.0,1756.0 1214.1,1768.3 1222.9,1802.5 1219.1,1826.1 1212.6,1835.2 1211.4,1837.4 1212.6,1837.3 1213.4,1835.7Z"/>
<path fill="#E66C5C" fill-rule="evenodd" d="M1158.4,1751.5 1157.5,1765.3 1151.0,1767.0 1150.5,1781.8 1134.0,1785.0 1134.0,1799.0 1143.0,1800.7 1143.0,1814.4 1112.0,1816.8 1087.8,1822.0 1103.0,1842.6 1103.0,1854.7 1120.0,1854.7 1120.0,1855.6 1139.4,1854.7 1142.9,1872.0 1153.0,1884.0 1163.5,1884.0 1164.5,1892.5 1172.0,1892.5 1172.0,1876.4 1194.5,1873.6 1196.0,1887.4 1204.8,1946.0 1206.5,1966.6 1198.0,1990.7 1196.6,2004.9 1196.6,2013.4 1198.0,2012.6 1198.0,2011.0 1206.5,2006.0 1227.0,2006.0 1241.0,1995.8 1247.8,1989.0 1261.6,1987.0 1272.0,1975.0 1278.8,1959.7 1292.6,1952.8 1297.8,1939.0 1309.8,1939.0 1320.0,1947.6 1340.8,1949.0 1358.0,1942.5 1368.0,1951.0 1354.6,1956.0 1354.6,1966.6 1365.0,1973.4 1377.0,1978.6 1368.0,1990.7 1352.8,1997.5 1354.6,2020.0 1375.0,2018.0 1358.0,2032.0 1354.6,2037.0 1421.7,2025.0 1486.0,2009.6 1489.5,1987.0 1510.0,1952.8 1501.5,1940.7 1482.6,1964.8 1474.0,1956.0 1463.7,1970.0 1458.5,1963.0 1467.0,1942.5 1472.3,1923.5 1493.0,1908.0 1503.3,1881.0 1522.0,1884.0 1531.0,1880.0 1534.4,1874.4 1540.0,1866.0 1524.0,1849.0 1515.0,1836.0 1509.5,1847.8 1497.4,1846.0 1495.7,1865.0 1464.7,1872.0 1471.6,1844.4 1459.6,1842.6 1456.0,1825.4 1442.0,1823.7 1440.6,1816.8 1430.3,1819.0 1428.6,1831.7 1418.0,1833.0 1408.0,1792.0 1409.2,1791.2 1409.0,1790.3 1407.5,1791.3 1378.2,1812.0 1354.4,1823.9 1341.0,1822.1 1323.7,1817.1 1319.3,1817.5 1319.3,1817.0 1318.4,1817.1 1318.4,1818.5 1213.4,1835.7 1214.6,1834.1 1213.3,1834.3 1212.6,1835.2 1209.5,1841.1 1196.3,1841.1 1186.7,1832.9 1177.8,1812.5 1171.3,1790.7 1167.9,1780.9 1168.8,1768.8 1169.6,1760.0 1168.8,1750.3 1169.2,1748.7 1169.2,1748.6 1168.2,1748.7 1167.9,1750.2ZM1196.9,2010.9 1197.1,2009.0 1197.1,2011.8Z"/>
<path fill="#A31E9A" fill-rule="evenodd" d="M1103.0,1856.4 1079.0,1873.6 1081.0,1894.0 1072.0,1904.6 1070.6,1911.5 1027.5,1911.5 1027.2,1914.9 1026.7,1913.2 1025.8,1928.7 1031.0,1952.8 1025.8,1983.8 1027.5,2004.4 1022.4,2028.5 1024.0,2045.7 1037.9,2047.5 1041.0,2063.0 1060.0,2063.0 1063.7,2085.3 1129.0,2081.9 1132.5,2099.0 1148.0,2097.4 1151.5,2076.7 1165.0,2059.5 1168.7,2045.7 1185.9,2044.0 1187.6,2032.0 1198.0,2020.0 1198.0,2013.5 1197.4,2010.9 1198.0,2005.0 1198.0,1990.7 1206.5,1966.6 1204.8,1946.0 1196.0,1887.4 1194.5,1873.6 1172.0,1876.4 1172.0,1892.5 1164.5,1892.5 1163.5,1884.0 1153.0,1884.0 1142.9,1872.0 1139.4,1854.7 1120.0,1854.7 1120.0,1855.6ZM1196.9,2010.9 1197.1,2009.0 1197.1,2011.8ZM1062.3,2085.4 1063.7,2085.3 1062.8,2083.6 1062.0,2083.7Z"/>
<path fill="#7100A8" fill-rule="evenodd" d="M1187.6,2032.0 1185.9,2044.0 1168.7,2045.7 1165.0,2059.5 1151.5,2076.7 1148.0,2097.4 1141.0,2114.6 1137.7,2125.0 1142.9,2142.0 1153.0,2143.8 1155.0,2156.5 1151.6,2175.4 1151.6,2184.0 1165.4,2187.5 1172.3,2209.8 1179.0,2213.3 1180.9,2240.8 1211.9,2237.4 1211.7,2191.0 1210.0,2133.5 1342.5,2109.0 1342.5,2100.8 1351.0,2087.0 1371.8,2076.7 1389.0,2057.8 1409.6,2042.0 1421.7,2025.0 1354.6,2037.0 1358.0,2032.0 1375.0,2018.0 1354.6,2020.0 1352.8,1997.5 1368.0,1990.7 1377.0,1978.6 1365.0,1973.4 1354.6,1966.6 1354.6,1956.0 1368.0,1951.0 1358.0,1942.5 1340.8,1949.0 1320.0,1947.6 1309.8,1939.0 1297.8,1939.0 1292.6,1952.8 1278.8,1959.7 1272.0,1975.0 1261.6,1987.0 1247.8,1989.0 1241.0,1995.8 1227.0,2006.0 1206.5,2006.0 1198.0,2011.0 1198.0,2009.4 1197.1,2009.9 1197.1,2011.8 1196.9,2010.9 1197.0,2010.0 1196.6,2010.2 1196.6,2013.7 1198.0,2020.0Z"/>
<path fill="#A62098" fill-rule="evenodd" d="M1477.3,2209.2 1471.5,2200.6 1458.6,2183.4 1444.0,2169.7 1420.0,2149.0 1400.0,2130.0 1392.4,2121.5 1378.7,2112.9 1382.0,2102.5 1342.5,2109.0 1210.0,2133.5 1211.7,2191.0 1211.9,2237.4 1217.0,2278.7 1223.0,2331.0 1221.6,2331.2 1221.7,2332.1 1223.2,2331.9 1233.0,2328.3 1235.9,2318.5 1241.0,2328.6 1257.6,2326.2 1292.8,2320.9 1313.1,2324.3 1333.6,2334.6 1347.8,2341.7 1349.2,2341.0 1349.1,2340.0 1347.8,2340.7 1346.0,2320.0 1349.6,2297.6 1449.4,2283.9 1451.0,2290.7 1456.3,2290.7 1456.3,2271.8 1477.0,2271.8 1477.3,2273.2 1478.3,2273.2 1477.9,2271.7 1475.9,2251.0 1479.6,2227.2 1485.2,2211.1 1486.0,2210.3 1486.3,2209.5 1485.6,2209.4 1484.4,2210.6Z"/>
<path fill="#B12A90" fill-rule="evenodd" d="M1456.3,2271.8 1456.3,2290.7 1451.0,2290.7 1449.4,2283.9 1349.6,2297.6 1346.0,2320.0 1347.8,2340.7 1346.3,2340.0 1346.4,2341.0 1347.8,2341.7 1362.1,2334.5 1375.9,2320.8 1388.9,2317.6 1402.5,2324.1 1423.1,2344.8 1430.6,2346.8 1440.5,2355.3 1445.6,2368.7 1449.0,2387.5 1447.2,2401.4 1453.8,2406.1 1457.2,2397.4 1460.7,2399.7 1452.4,2411.5 1457.8,2422.4 1468.1,2432.6 1475.0,2444.8 1479.7,2449.7 1480.8,2437.0 1483.5,2438.0 1485.2,2451.5 1495.7,2458.6 1500.7,2472.3 1506.2,2477.7 1520.0,2484.6 1526.7,2491.3 1530.0,2496.4 1531.9,2504.0 1543.2,2500.1 1551.8,2496.8 1561.1,2493.0 1559.2,2485.5 1559.2,2479.0 1564.4,2472.1 1563.6,2461.4 1562.7,2444.2 1560.9,2426.8 1555.8,2412.9 1547.0,2399.0 1536.7,2385.2 1526.6,2371.8 1528.3,2361.5 1524.7,2355.9 1510.7,2340.5 1496.8,2316.2 1482.8,2292.2 1477.9,2271.7 1477.8,2270.4 1476.9,2270.4 1477.0,2271.8Z"/>
<path fill="#B12A90" fill-rule="evenodd" d="M1506.4,2533.8 1517.3,2531.1 1530.2,2523.8 1520.2,2522.5Z"/>
<path fill="#6300A7" fill-rule="evenodd" d="M1573.4,1910.0 1564.0,1908.9 1559.7,1911.0 1554.0,1907.7 1550.5,1911.0 1546.0,1908.9 1546.0,1902.0 1549.0,1897.4 1548.0,1890.5 1543.6,1887.0 1534.4,1882.5 1531.0,1880.0 1522.0,1884.0 1503.3,1881.0 1493.0,1908.0 1472.3,1923.5 1467.0,1942.5 1458.5,1963.0 1463.7,1970.0 1474.0,1956.0 1482.6,1964.8 1501.5,1940.7 1510.0,1952.8 1489.5,1987.0 1486.0,2009.6 1421.7,2025.0 1409.6,2042.0 1389.0,2057.8 1371.8,2076.7 1351.0,2087.0 1342.5,2100.8 1342.5,2109.0 1382.0,2102.5 1378.7,2112.9 1392.4,2121.5 1400.0,2130.0 1420.0,2149.0 1444.0,2169.7 1458.6,2183.4 1471.5,2200.6 1477.3,2209.2 1484.4,2210.6 1483.9,2211.9 1484.8,2212.1 1485.2,2211.1 1489.3,2206.9 1496.5,2199.8 1505.2,2191.2 1513.7,2176.8 1522.4,2168.2 1531.1,2155.1 1536.8,2142.1 1542.6,2125.0 1551.0,2113.8 1562.2,2109.7 1572.7,2106.6 1575.7,2090.5 1582.7,2079.3 1592.5,2070.7 1602.4,2065.2 1609.8,2062.2 1614.5,2055.9 1612.6,2048.9 1600.7,2051.9 1596.2,2049.2 1608.0,2047.9 1618.1,2044.7 1611.2,2037.8 1600.9,2031.9 1591.1,2029.8 1604.9,2025.1 1616.7,2028.0 1622.7,2021.8 1628.9,2009.8 1625.5,2001.6 1616.3,2004.6 1607.8,2003.1 1593.9,2006.0 1590.0,1998.4 1591.8,1995.0 1600.8,1996.4 1614.2,1988.9 1615.9,1984.0 1612.8,1972.0 1608.5,1970.1 1603.4,1960.5 1592.1,1964.9 1587.5,1958.7 1575.9,1956.9 1585.7,1954.8 1586.9,1950.1 1587.9,1938.7 1586.9,1929.3 1584.6,1923.1 1572.6,1923.4 1583.7,1920.8 1585.0,1916.3 1580.7,1910.5 1580.1,1909.6 1578.9,1909.4 1580.0,1911.0Z"/>
<path fill="#D5546E" fill-rule="evenodd" d="M1418.0,1833.0 1428.6,1831.7 1430.3,1819.0 1440.6,1816.8 1442.0,1823.7 1456.0,1825.4 1459.6,1842.6 1471.6,1844.4 1464.7,1872.0 1495.7,1865.0 1497.4,1846.0 1509.5,1847.8 1515.0,1836.0 1524.0,1849.0 1540.0,1866.0 1534.4,1874.4 1531.0,1880.0 1534.4,1882.5 1543.6,1887.0 1548.0,1890.5 1549.0,1897.4 1546.0,1902.0 1546.0,1908.9 1550.5,1911.0 1554.0,1907.7 1559.7,1911.0 1564.0,1908.9 1573.4,1910.0 1580.0,1911.0 1581.2,1912.6 1582.4,1912.8 1580.7,1910.5 1575.4,1902.6 1570.9,1892.5 1568.6,1883.4 1567.4,1872.5 1562.0,1869.0 1564.6,1868.4 1568.5,1861.2 1574.0,1852.2 1575.5,1851.6 1572.5,1860.6 1573.7,1869.9 1574.8,1881.3 1579.3,1888.7 1583.5,1891.1 1578.0,1892.1 1579.2,1899.0 1585.9,1905.2 1590.8,1901.8 1594.4,1902.8 1599.0,1910.5 1602.6,1915.9 1601.6,1926.9 1599.6,1938.7 1601.2,1951.4 1608.8,1951.4 1610.9,1938.8 1611.9,1927.1 1612.9,1915.9 1618.4,1904.3 1620.4,1892.8 1617.8,1880.6 1613.1,1873.8 1603.6,1867.0 1597.1,1857.9 1591.6,1849.0 1593.6,1850.8 1602.8,1852.4 1613.9,1855.7 1616.0,1867.0 1620.1,1861.1 1622.5,1849.3 1628.2,1839.3 1632.3,1824.1 1630.6,1805.8 1628.2,1800.4 1620.7,1795.7 1623.9,1789.4 1624.0,1786.5 1624.3,1788.6 1623.4,1781.1 1623.0,1789.2 1620.7,1770.8 1600.0,1767.4 1591.0,1762.9 1579.0,1754.0 1568.0,1744.0 1428.6,1779.0 1429.7,1777.3 1428.4,1777.6 1428.0,1778.3 1407.5,1791.3 1406.5,1791.9 1406.8,1792.9 1408.0,1792.0Z"/>
<path fill="#7E03A8" fill-rule="evenodd" d="M1632.0,1757.0 1620.7,1720.3 1618.4,1690.5 1613.0,1673.0 1606.9,1656.0 1602.3,1651.5 1598.0,1633.8 1586.0,1598.7 1587.3,1598.2 1587.0,1597.4 1585.7,1597.9 1560.7,1606.2 1538.4,1616.3 1520.1,1640.8 1516.1,1650.8 1509.7,1661.4 1518.0,1671.7 1520.0,1685.2 1514.3,1692.7 1500.4,1702.6 1480.5,1708.6 1460.3,1712.6 1439.4,1721.0 1443.8,1731.9 1447.6,1743.5 1437.8,1763.3 1428.0,1778.3 1426.9,1779.0 1425.8,1780.8 1428.6,1779.0 1568.0,1744.0 1579.0,1754.0 1591.0,1762.9 1600.0,1767.4 1620.7,1770.8 1623.0,1789.2 1621.9,1791.4 1622.1,1793.0 1623.9,1789.4 1624.0,1786.5 1624.4,1789.1 1624.4,1789.1 1624.6,1784.4 1623.6,1777.1 1624.0,1769.0 1623.8,1772.7 1625.2,1772.1 1625.3,1771.1 1624.8,1771.3 1624.9,1769.3 1628.1,1764.7 1629.2,1763.9 1630.5,1762.0 1627.5,1764.0Z"/>
<path fill="#7E03A8" fill-rule="evenodd" d="M1623.0,1773.0 1625.0,1786.9 1623.6,1777.1 1623.2,1784.5 1623.9,1789.1 1624.0,1786.5 1624.4,1789.1 1630.4,1781.7 1640.4,1776.2 1652.0,1770.5 1664.8,1762.3 1673.9,1754.3 1684.6,1747.7 1693.4,1736.0 1693.0,1735.6 1685.5,1741.3 1679.3,1745.4 1682.4,1739.2 1672.9,1746.0 1666.1,1750.3 1657.0,1757.2 1645.6,1760.7 1633.9,1765.2 1628.2,1770.0 1624.8,1771.3 1624.8,1770.8 1623.9,1771.2 1623.8,1772.7Z"/>
<path fill="#3E049C" fill-rule="evenodd" d="M1598.0,1633.8 1602.3,1651.5 1606.9,1656.0 1613.0,1673.0 1618.4,1690.5 1620.7,1720.3 1632.0,1757.0 1627.5,1764.0 1625.2,1767.2 1627.3,1765.8 1628.1,1764.7 1634.9,1760.1 1644.2,1754.3 1648.7,1748.7 1657.8,1745.2 1669.2,1739.5 1680.8,1732.6 1689.2,1727.6 1691.6,1719.8 1688.2,1715.5 1689.1,1710.1 1693.5,1711.8 1698.4,1716.7 1703.8,1715.4 1708.2,1709.9 1714.9,1712.0 1724.6,1703.7 1732.6,1696.2 1728.2,1685.8 1718.1,1682.1 1717.8,1682.9 1725.3,1687.6 1728.6,1694.7 1721.2,1699.9 1714.9,1701.1 1709.6,1697.8 1705.1,1693.4 1700.3,1687.2 1693.6,1685.2 1690.4,1679.8 1691.4,1672.4 1696.5,1667.6 1691.4,1662.5 1688.1,1652.5 1690.4,1641.2 1692.7,1628.7 1696.0,1619.9 1703.9,1613.1 1713.7,1601.0 1719.9,1594.4 1719.9,1585.9 1717.0,1575.8 1721.3,1569.8 1724.7,1573.2 1729.7,1576.8 1733.8,1571.5 1738.0,1573.7 1742.6,1565.9 1747.7,1561.6 1754.0,1553.3 1757.0,1545.4 1761.1,1544.4 1764.5,1534.1 1759.1,1528.4 1754.5,1523.4 1750.0,1526.0 1744.6,1523.4 1742.7,1517.4 1739.4,1510.2 1730.0,1508.7 1726.1,1502.9 1718.8,1486.4 1711.7,1469.8 1704.4,1452.5 1698.8,1450.2 1692.5,1448.1 1685.6,1447.7 1681.4,1453.0 1677.2,1456.1 1673.3,1460.6 1669.0,1460.1 1666.0,1455.0 1660.6,1453.7 1657.3,1472.1 1653.1,1493.0 1654.1,1503.3 1653.1,1513.7 1656.3,1524.1 1656.3,1534.1 1652.1,1544.5 1654.0,1554.8 1650.4,1560.2 1646.5,1561.2 1637.8,1566.8 1636.8,1575.1 1619.6,1585.2 1585.7,1597.9 1584.4,1598.3 1584.7,1599.1 1586.0,1598.7Z"/>
</g>
<g fill="none" stroke="#fff" stroke-opacity="0.33" stroke-width="1.1" stroke-linejoin="round">
<polyline points="99.0,1574.9 105.9,1580.7 113.9,1586.4 116.2,1597.9 115.0,1607.0 124.3,1613.9 140.3,1612.8 157.5,1617.4 161.0,1622.0 177.0,1619.7 181.6,1623.0 206.9,1619.7 226.4,1622.0 260.0,1630.0 287.4,1633.8"/>
<polyline points="309.8,1508.0 287.4,1633.8 296.0,1647.5 285.7,1675.0 265.0,1699.0 268.5,1713.0 247.8,1804.0"/>
<polyline points="337.3,1515.0 330.5,1551.0 335.6,1578.7 347.7,1602.8 366.6,1623.4 358.0,1647.5 354.6,1664.7 370.0,1668.0 378.7,1695.7 395.9,1723.3 430.3,1723.3 444.0,1716.4 449.2,1728.4"/>
<polyline points="454.4,1707.8 449.2,1728.4 437.2,1833.0 432.0,1879.8 494.7,1888.4"/>
<polyline points="454.4,1707.8 549.0,1719.8"/>
<polyline points="25.8,1746.7 155.0,1781.8 247.8,1804.0 340.8,1823.7 437.2,1833.0"/>
<polyline points="155.0,1781.8 141.0,1841.0 127.4,1909.7"/>
<polyline points="340.8,1823.7 306.4,2038.0"/>
<polyline points="306.4,2038.0 299.5,2076.7 290.0,2077.0 279.0,2067.0 272.0,2081.0 270.0,2106.0"/>
<polyline points="476.8,2058.8 468.0,2191.0 454.6,2299.0"/>
<polyline points="675.6,1558.0 668.7,1687.0 665.0,1726.7 659.0,1791.0 657.0,1894.0"/>
<polyline points="668.7,1687.0 890.7,1688.8"/>
<polyline points="868.3,1559.8 875.2,1596.0 882.0,1633.8 889.0,1668.0 890.7,1688.8 885.5,1702.6 895.9,1716.4 899.3,1792.0 901.0,1819.7 895.9,1833.4"/>
<polyline points="899.3,1792.0 1061.0,1780.0"/>
<polyline points="723.8,1816.0 837.3,1818.0 854.6,1823.0 878.7,1821.4 899.3,1833.4 911.4,1856.4 920.0,1887.4 930.3,1918.4"/>
<polyline points="1025.0,1644.0 1016.4,1654.4 1016.4,1675.0 1004.3,1688.8 1009.5,1709.5 1013.0,1730.0 1026.7,1740.5 1043.9,1754.0 1057.7,1764.6 1061.0,1780.0 1068.0,1802.5 1081.8,1816.0 1087.8,1822.0"/>
<polyline points="494.7,1888.4 657.0,1894.0 722.0,1902.0"/>
<polyline points="942.3,1942.5 954.4,1952.8 963.0,1973.4 969.9,1983.8 973.3,2071.5"/>
<polyline points="685.9,2095.6 789.0,2097.4 789.0,2173.0"/>
<polyline points="686.0,2072.5 680.7,2191.0 676.0,2288.0"/>
<polyline points="978.5,2090.5 985.4,2135.0 988.8,2191.0"/>
<polyline points="1070.6,1918.4 1074.0,1942.5 1093.0,1963.0 1117.0,2004.4 1137.7,2018.0 1151.5,2045.7"/>
<polyline points="1278.8,1825.4 1282.0,1939.0"/>
<polyline points="1198.0,2020.0 1354.6,2037.0"/>
<polyline points="1487.0,2007.9 1600.0,1978.6"/>
<polyline points="1382.0,2102.5 1447.5,2083.6 1457.0,2083.0 1461.0,2087.0 1502.6,2083.6 1550.8,2111.0"/>
<polyline points="1297.8,2119.7 1303.0,2141.0 1316.7,2191.0 1334.0,2237.4 1337.5,2261.5 1347.8,2292.5"/>
<polyline points="1347.8,2286.0 1249.7,2299.3 1251.5,2313.0 1258.0,2323.4"/>
<polyline points="1100.9,2313.0 1170.6,2309.7 1179.0,2340.7"/>
<polyline points="1009.6,2239.0 1109.5,2231.0"/>
<polyline points="1131.8,2141.0 1126.7,2151.3 1116.4,2175.4 1106.0,2192.6 1109.5,2231.0 1116.4,2261.5 1100.9,2313.0"/>
<polyline points="1009.6,2283.9 1018.0,2295.9 1026.9,2320.0 1025.0,2354.4 1018.0,2378.5"/>
<polyline points="1646.0,1566.6 1685.7,1647.5"/>
<polyline points="1637.5,1577.0 1641.0,1596.0 1632.4,1620.0 1637.5,1682.0"/>
<polyline points="1620.3,1688.8 1682.3,1664.7"/>
<polyline points="1623.8,1719.8 1672.0,1706.0 1685.7,1702.6"/>
<polyline points="1672.0,1706.0 1678.8,1730.0"/>
<polyline points="1591.0,1762.9 1585.9,1785.0 1606.5,1812.8 1592.8,1833.4 1587.0,1840.0"/>
<polyline points="1535.0,1858.0 1582.4,1839.0 1598.0,1892.5 1618.6,1889.0"/>
<polyline points="1090.0,1656.0 1144.6,1668.0 1153.0,1682.0 1161.8,1695.7"/>
</g>
<g fill="#fff" stroke="#fff" stroke-width="1.5" stroke-linejoin="round">
<polygon points="34.0,1927.0 41.0,1929.0 38.0,1942.0 43.0,1956.0 36.0,1953.0 33.0,1941.0"/>
</g>
<g fill="none" stroke="#dfe3e8" stroke-width="1.2" stroke-linejoin="round">
<polyline points="929.0,2440.3 915.0,2450.0 904.0,2462.0 895.0,2475.0 891.0,2483.0 890.5,2501.0 893.0,2519.0 898.0,2533.0 900.6,2543.5"/>
<polyline points="1612.0,1974.0 1629.3,1998.4 1640.8,2025.6 1622.0,2044.3 1612.0,2063.0"/>
<polyline points="1563.5,2471.8 1564.4,2482.0 1558.3,2499.3 1546.3,2513.0 1530.8,2525.0 1510.0,2535.5 1496.4,2539.0"/>
</g>
<g stroke="#4a464a" stroke-width="2.1" stroke-linecap="butt">
<line x1="1166.0" y1="1595.9" x2="1123.6" y2="1696.5" stroke-width="2.0"/>
<line x1="1722.6" y1="1622.9" x2="1648.5" y2="1648.5" stroke-width="1.8"/>
<line x1="1511.5" y1="2403.2" x2="1582.1" y2="2471.2" stroke-width="2.8"/>
</g>
<g font-family="'DejaVu Sans', sans-serif" font-size="43.4" style="font-kerning:none;letter-spacing:0.4px">
<text x="272.2" y="1763.1" fill="#CFCBD6">NWPPc</text>
<text x="767.2" y="1764.8" fill="#CFCBD6">MROWc</text>
<text x="1141.7" y="1594.5" fill="#474648">MROEc</text>
<text x="1190.9" y="1776.9" fill="#5A585B">RFCMc</text>
<text x="1479.0" y="1739.0" fill="#CFCBD6">NYSTc</text>
<text x="1725.8" y="1628.1" fill="#474648">NEWEc</text>
<text x="1460.1" y="1819.9" fill="#5A585B">RFCEc</text>
<text x="538.8" y="1946.1" fill="#5A585B">RMPAc</text>
<text x="792.6" y="2043.5" fill="#CFCBD6">SPNOc</text>
<text x="804.1" y="2148.0" fill="#CFCBD6">SPSOc</text>
<text x="1022.6" y="1998.8" fill="#CFCBD6">SRMWc</text>
<text x="1239.8" y="1910.5" fill="#5A585B">RFCWc</text>
<text x="1194.0" y="2094.1" fill="#CFCBD6">SRTVc</text>
<text x="1431.6" y="2064.9" fill="#CFCBD6">SRVCc</text>
<text x="64.4" y="2071.8" fill="#CFCBD6">CAMXc</text>
<text x="421.3" y="2193.9" fill="#5A585B">AZNMc</text>
<text x="751.7" y="2340.9" fill="#CFCBD6">ERCTc</text>
<text x="1016.6" y="2303.0" fill="#5A585B">SRMVc</text>
<text x="1262.6" y="2234.9" fill="#CFCBD6">SRSOc</text>
<text x="1579.0" y="2485.5" fill="#474648">FRCCc</text>
</g>
<rect x="1900" y="393.3" width="112.3" height="552.4" fill="url(#plasma)"/>
<g stroke="#fff" stroke-width="1.6">
<line x1="1900" x2="1922" y1="396.3" y2="396.3"/><line x1="1990" x2="2012.3" y1="396.3" y2="396.3"/>
<line x1="1900" x2="1922" y1="517.7" y2="517.7"/><line x1="1990" x2="2012.3" y1="517.7" y2="517.7"/>
<line x1="1900" x2="1922" y1="638.3" y2="638.3"/><line x1="1990" x2="2012.3" y1="638.3" y2="638.3"/>
<line x1="1900" x2="1922" y1="759.3" y2="759.3"/><line x1="1990" x2="2012.3" y1="759.3" y2="759.3"/>
<line x1="1900" x2="1922" y1="880.3" y2="880.3"/><line x1="1990" x2="2012.3" y1="880.3" y2="880.3"/>
</g>
<g font-family="'Liberation Sans', Arial, sans-serif" font-size="47.6" fill="#1a1a1a">
<text x="2031.5" y="417.5">600</text>
<text x="2031.5" y="538.9">500</text>
<text x="2031.5" y="659.5">400</text>
<text x="2031.5" y="780.5">300</text>
<text x="2031.5" y="901.5">200</text>
<text x="1904.3" y="366.7">gCO2/kWh</text>
</g>
<rect x="1900" y="1754.3" width="112.3" height="552.4" fill="url(#plasma)"/>
<g stroke="#fff" stroke-width="1.6">
<line x1="1900" x2="1922" y1="1759.3" y2="1759.3"/><line x1="1990" x2="2012.3" y1="1759.3" y2="1759.3"/>
<line x1="1900" x2="1922" y1="1871.7" y2="1871.7"/><line x1="1990" x2="2012.3" y1="1871.7" y2="1871.7"/>
<line x1="1900" x2="1922" y1="1984.0" y2="1984.0"/><line x1="1990" x2="2012.3" y1="1984.0" y2="1984.0"/>
<line x1="1900" x2="1922" y1="2096.3" y2="2096.3"/><line x1="1990" x2="2012.3" y1="2096.3" y2="2096.3"/>
<line x1="1900" x2="1922" y1="2209.0" y2="2209.0"/><line x1="1990" x2="2012.3" y1="2209.0" y2="2209.0"/>
</g>
<g font-family="'Liberation Sans', Arial, sans-serif" font-size="47.6" fill="#1a1a1a">
<text x="2031.5" y="1780.5">250</text>
<text x="2031.5" y="1892.9">200</text>
<text x="2031.5" y="2005.2">150</text>
<text x="2031.5" y="2117.5">100</text>
<text x="2031.5" y="2230.2">50</text>
<text x="1904.3" y="1726.7">gCO2/kWh</text>
</g>
</svg>
</body></html>
